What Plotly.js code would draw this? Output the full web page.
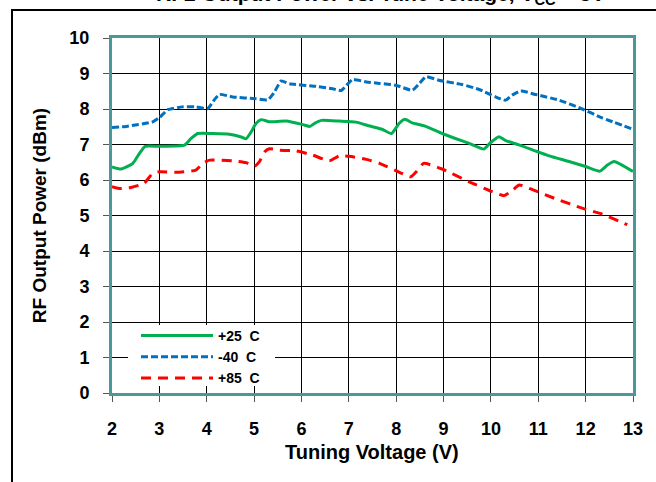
<!DOCTYPE html>
<html>
<head>
<meta charset="utf-8">
<script src="https://cdn.plot.ly/plotly-3.0.1.min.js"></script>
<style>html,body{margin:0;padding:0;background:#fff;}#chart{width:656px;height:482px;}</style>
</head>
<body>
<div id="chart"></div>
<script>
// Data
const seriesNames = ["+25  C", "-40  C", "+85  C"];

const v25 = [2.0,2.19,2.44,2.58,2.70,3.0,3.53,3.67,3.81,4.13,4.48,4.73,4.83,4.94,5.04,5.15,5.32,5.68,6.03,6.18,6.27,6.42,6.80,7.15,7.44,7.70,7.90,8.06,8.18,8.34,8.58,8.97,9.25,9.54,9.85,9.99,10.17,10.31,10.59,11.23,11.65,12.0,12.30,12.46,12.60,12.77,13.0];
const p25 = [6.37,6.31,6.47,6.75,6.95,6.95,6.98,7.17,7.31,7.31,7.29,7.21,7.16,7.36,7.59,7.70,7.64,7.66,7.56,7.51,7.59,7.68,7.66,7.63,7.52,7.43,7.31,7.59,7.71,7.61,7.53,7.31,7.17,7.03,6.87,7.05,7.22,7.11,6.99,6.68,6.52,6.38,6.25,6.42,6.52,6.42,6.24];

const vm40 = [2.0,2.30,2.86,3.0,3.18,3.49,3.77,4.02,4.16,4.27,4.55,5.04,5.29,5.43,5.57,5.75,6.31,6.66,6.84,6.98,7.08,7.37,7.65,7.99,8.34,8.49,8.63,8.90,9.39,9.75,10.10,10.31,10.45,10.63,10.94,11.44,11.93,12.35,13.0];
const pm40 = [7.48,7.51,7.64,7.76,7.98,8.06,8.06,8.01,8.26,8.41,8.34,8.29,8.26,8.48,8.79,8.71,8.64,8.57,8.52,8.71,8.83,8.76,8.72,8.67,8.53,8.72,8.91,8.81,8.69,8.55,8.34,8.25,8.39,8.51,8.41,8.25,8.0,7.75,7.43];

const v85 = [2.0,2.15,2.40,2.68,2.86,3.0,3.42,3.77,3.92,4.06,4.55,4.83,5.01,5.11,5.22,5.32,5.54,5.89,6.24,6.59,6.80,7.01,7.37,7.65,7.97,8.31,8.43,8.58,8.97,9.54,10.03,10.28,10.46,10.60,10.89,11.37,11.94,12.35,12.77,12.88];
const p85 = [5.81,5.76,5.79,5.91,6.19,6.23,6.22,6.28,6.47,6.56,6.54,6.49,6.39,6.51,6.79,6.88,6.84,6.82,6.70,6.54,6.68,6.67,6.58,6.47,6.28,6.09,6.24,6.47,6.31,5.95,5.67,5.56,5.72,5.86,5.72,5.47,5.20,5.04,4.80,4.74];

const xTicks = [2,3,4,5,6,7,8,9,10,11,12,13];
const yTicks = [0,1,2,3,4,5,6,7,8,9,10];

const FONT = "Liberation Sans, Arial, sans-serif";
const teal = "#4a9898";

const traces = [
  {x: v25, y: p25, name: seriesNames[0], mode: "lines",
   line: {color: "#00b050", width: 3, shape: "spline", smoothing: 0.5}},
  {x: vm40, y: pm40, name: seriesNames[1], mode: "lines",
   line: {color: "#0070c0", width: 3, dash: "7px,3px", shape: "spline", smoothing: 0.5}},
  {x: v85, y: p85, name: seriesNames[2], mode: "lines",
   line: {color: "#ff0000", width: 3, dash: "10px,7px", shape: "spline", smoothing: 0.5}}
];

const W = 521, H = 355, L = 112, T = 38;
function px(x){ return (x - L) / W; }
function py(y){ return (T + H - y) / H; }

const layout = {
  width: 656, height: 482,
  margin: {l: L, r: 656 - L - W, t: T, b: 482 - T - H},
  paper_bgcolor: "#fff", plot_bgcolor: "#fff",
  font: {family: FONT, color: "#000"},
  showlegend: true,
  legend: {x: px(136), y: py(320), xanchor: "left", yanchor: "top",
    bgcolor: "rgba(0,0,0,0)", borderwidth: 0, itemwidth: 72,
    font: {family: FONT, size: 14, weight: "bold", color: "#000"},
    tracegroupgap: 0},
  xaxis: {range: [2, 13], tickvals: xTicks, ticktext: xTicks.map(String),
    showgrid: true, gridcolor: "#000", gridwidth: 1, zeroline: false,
    showline: true, mirror: true, linecolor: teal, linewidth: 3,
    ticks: "outside", ticklen: 6, tickcolor: "#555", tickwidth: 1,
    ticklabelstandoff: 11,
    tickfont: {family: FONT, size: 18, weight: "bold", color: "#000"}},
  yaxis: {range: [0, 10], tickvals: yTicks, ticktext: yTicks.map(String),
    showgrid: true, gridcolor: "#000", gridwidth: 1, zeroline: false,
    showline: true, mirror: true, linecolor: teal, linewidth: 3,
    ticks: "outside", ticklen: 6, tickcolor: "#555", tickwidth: 1,
    ticklabelstandoff: 10,
    tickfont: {family: FONT, size: 18, weight: "bold", color: "#000"},
    title: {text: "RF Output Power (dBm)", standoff: 18,
      font: {family: FONT, size: 19, weight: "bold", color: "#000"}}},
  annotations: [{
    text: "RF2 Output Power vs. Tune Voltage, V<sub>CC</sub> = 5V",
    xref: "paper", yref: "paper", x: px(380), y: py(10),
    xanchor: "center", yanchor: "bottom", showarrow: false,
    font: {family: FONT, size: 21, weight: "bold", color: "#000"}
  }, {
    text: "Tuning Voltage (V)",
    xref: "paper", yref: "paper", x: px(372), y: py(452),
    xanchor: "center", yanchor: "middle", showarrow: false,
    font: {family: FONT, size: 20, weight: "bold", color: "#000"}
  }],
  shapes: [
    {type: "rect", xref: "paper", yref: "paper", layer: "above",
     x0: px(128), x1: px(275), y0: py(325), y1: py(386),
     fillcolor: "#fff", line: {width: 0}},
    {type: "line", xref: "paper", yref: "paper", x0: px(11), x1: px(660), y0: py(10), y1: py(10),
     line: {color: "#000", width: 2}},
    {type: "line", xref: "paper", yref: "paper", x0: px(12), x1: px(12), y0: py(10), y1: py(490),
     line: {color: "#000", width: 2}}
  ]
};

Plotly.newPlot("chart", traces, layout, {staticPlot: true, displayModeBar: false});
</script>
</body>
</html>
